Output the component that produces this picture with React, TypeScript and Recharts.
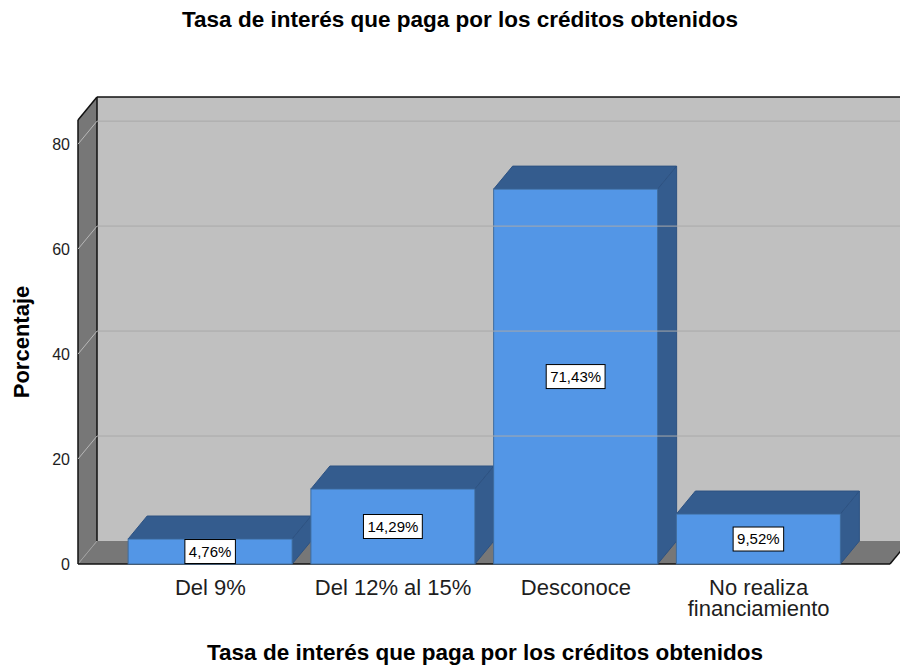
import React from "react";
import { BarChart, Bar, XAxis, YAxis, ReferenceArea, ReferenceLine, LabelList } from "recharts";

const categorias = ["Del 9%", "Del 12% al 15%", "Desconoce", "No realiza financiamiento"];
const porcentajes = [4.76, 14.29, 71.43, 9.52];
const ticksY = [0, 20, 40, 60, 80];
const lineasFondo = [20, 40, 60, 80];
const maxY = 84.6;

const titulo = "Tasa de interés que paga por los créditos obtenidos";
const tituloEjeY = "Porcentaje";

const data = categorias.map((cat, i) => ({ cat, pct: porcentajes[i] }));

// desplazamiento de la profundidad 3D
const DX = 19;
const DY = -23;
const PAD_L = 41;
const PAD_R = 40;
const fuente = '"Liberation Sans", Arial, sans-serif';

// la ReferenceArea llega recortada por el padding del eje X, se vuelve a ensanchar
function Paredes(props: any) {
  const { y, height } = props;
  const x = props.x - PAD_L;
  const w = props.width + PAD_L + PAD_R;
  const b = y + height;
  return (
    <g>
      <rect x={x + DX} y={y + DY} width={w} height={height} fill="#c0c0c0" />
      <polygon points={`${x},${y} ${x + DX},${y + DY} ${x + DX},${b + DY} ${x},${b}`} fill="#777777" />
      <polygon points={`${x},${b} ${x + DX},${b + DY} ${x + w + DX},${b + DY} ${x + w},${b}`} fill="#777777" />
      <line x1={x} y1={b} x2={x + DX} y2={b + DY} stroke="#a0a0a0" />
      <line x1={x} y1={y} x2={x} y2={b} stroke="#111" strokeWidth={1.5} />
      <line x1={x} y1={y} x2={x + DX} y2={y + DY} stroke="#111" strokeWidth={1.5} />
      <line x1={x + DX} y1={y + DY} x2={x + w + DX} y2={y + DY} stroke="#111" strokeWidth={1.5} />
      <line x1={x + DX} y1={y + DY} x2={x + DX} y2={b + DY} stroke="#111" strokeWidth={1.5} />
      <line x1={x} y1={b} x2={x + w} y2={b} stroke="#111" strokeWidth={1.5} />
      <line x1={x + w} y1={b} x2={x + w + DX} y2={b + DY} stroke="#111" strokeWidth={1.5} />
    </g>
  );
}

function LineaFondo(props: any) {
  const { x1, x2, y1 } = props;
  return (
    <g>
      <line x1={x1} y1={y1} x2={x1 + DX} y2={y1 + DY} stroke="#b8b8b8" />
      <line x1={x1 + DX} y1={y1 + DY} x2={x2 + DX} y2={y1 + DY} stroke="#a9a9a9" />
    </g>
  );
}

function Barra3D(props: any) {
  const { x, y, width: w, height: h } = props;
  const b = y + h;
  return (
    <g>
      <polygon
        points={`${x},${y} ${x + DX},${y + DY} ${x + w + DX},${y + DY} ${x + w},${y}`}
        fill="#345c8e" stroke="#2d5282" strokeWidth={1}
      />
      <polygon
        points={`${x + w},${y} ${x + w + DX},${y + DY} ${x + w + DX},${b + DY} ${x + w},${b}`}
        fill="#345c8e" stroke="#2d5282" strokeWidth={1}
      />
      <rect x={x} y={y} width={w} height={h} fill="#5396e6" stroke="#3f6c9e" strokeWidth={1} />
    </g>
  );
}

const anchoChar: Record<string, number> = { ",": 0.278, "%": 0.889 };

function Etiqueta(props: any) {
  const { x, y, width, height, value } = props;
  const txt = Number(value).toFixed(2).replace(".", ",") + "%";
  const tw = txt.split("").reduce((s, c) => s + (anchoChar[c] ?? 0.556), 0) * 15;
  const cx = x + width / 2;
  const cy = y + height / 2;
  return (
    <g>
      <rect x={cx - tw / 2 - 4} y={cy - 12} width={tw + 8} height={24} fill="#fff" stroke="#000" strokeWidth={1} />
      <text x={cx} y={cy} dy="0.36em" textAnchor="middle" fontSize={15} fill="#000" fontFamily={fuente}>
        {txt}
      </text>
    </g>
  );
}

function TickX(props: any) {
  const { x, y, payload } = props;
  const v: string = payload.value;
  let lineas = [v];
  if (v.length > 16) {
    const i = v.indexOf(" ", 3);
    lineas = [v.slice(0, i), v.slice(i + 1)];
  }
  return (
    <g>
      {lineas.map((l, i) => (
        <text key={i} x={x} y={y + 31 + i * 21} textAnchor="middle" fontSize={22} fill="#1e1e1e" fontFamily={fuente}>
          {l}
        </text>
      ))}
    </g>
  );
}

export default function App() {
  return (
    <div style={{ position: "absolute", left: 0, top: 0, width: 900, height: 668, background: "#fff", fontFamily: fuente, overflow: "hidden" }}>
      <BarChart
        width={900}
        height={668}
        data={data}
        margin={{ top: 120, right: 10, bottom: 44, left: 48 }}
        barCategoryGap="5%"
      >
        <ReferenceArea y1={0} y2={maxY} shape={<Paredes />} />
        {lineasFondo.map((v) => (
          <ReferenceLine key={v} y={v} shape={<LineaFondo />} />
        ))}
        <XAxis
          dataKey="cat"
          padding={{ left: PAD_L, right: PAD_R }}
          axisLine={false}
          tickLine={false}
          tickSize={0}
          tickMargin={0}
          height={60}
          interval={0}
          tick={<TickX />}
        />
        <YAxis
          domain={[0, maxY]}
          ticks={ticksY}
          axisLine={false}
          tickLine={false}
          width={30}
          tick={{ fill: "#1e1e1e", fontSize: 16, fontFamily: fuente }}
        />
        <Bar dataKey="pct" shape={<Barra3D />} isAnimationActive={false}>
          <LabelList dataKey="pct" content={<Etiqueta />} />
        </Bar>
      </BarChart>
      <svg width={900} height={668} style={{ position: "absolute", left: 0, top: 0, pointerEvents: "none" }}>
        <text x={460} y={27} textAnchor="middle" fontSize={22.5} fontWeight="bold" fill="#000" fontFamily={fuente}>
          {titulo}
        </text>
        <text x={485} y={660} textAnchor="middle" fontSize={22.5} fontWeight="bold" fill="#000" fontFamily={fuente}>
          {titulo}
        </text>
        <text
          x={29}
          y={342}
          transform="rotate(-90 29 342)"
          textAnchor="middle"
          fontSize={22}
          fontWeight="bold"
          fill="#000"
          fontFamily={fuente}
        >
          {tituloEjeY}
        </text>
      </svg>
    </div>
  );
}
